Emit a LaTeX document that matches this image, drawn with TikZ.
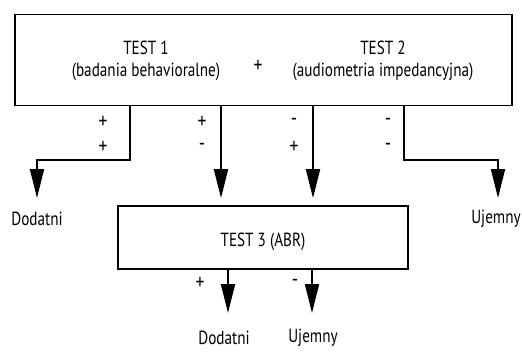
\documentclass[tikz,border=0pt]{standalone}
\usepackage{fontspec}
\setmainfont[FakeStretch=0.8]{PT Sans}
\usetikzlibrary{arrows.meta}
\begin{document}
\begin{tikzpicture}[x=1pt,y=-1pt,line width=1.8pt,
  arr/.style={-{Triangle[width=14pt,length=29pt]}},
  txt/.style={font=\fontsize{19}{22}\selectfont,inner sep=0pt},
  sgn/.style={font=\fontsize{22}{24}\selectfont,inner sep=0pt},
  boxx/.style={draw,inner sep=0pt}]
\useasboundingbox (0,0) rectangle (522,357);
% boxes
\node[boxx,minimum width=497pt,minimum height=91pt] (top) at (263.5,60) {};
\node[boxx,minimum width=290pt,minimum height=63pt] (bot) at (263,237.5) {};
% texts in top box
\node[txt] (t1) at (146,48) {TEST 1};
\node[txt] (t1b) at (146,72) {(badania behavioralne)};
\node[sgn] (pl) at (258,66) {+};
\node[txt] (t2) at (383,48) {TEST 2};
\node[txt] (t2b) at (383,72) {(audiometria impedancyjna)};
\node[txt] (t3) at (263,242) {TEST 3 (ABR)};
% outcome labels
\node[txt] (d1) at (37,219) {Dodatni};
\node[txt] (u1) at (496,219) {Ujemny};
\node[txt] (d2) at (224,338) {Dodatni};
\node[txt] (u2) at (313,338) {Ujemny};
% sign labels
\node[sgn] (s1a) at (103,122) {+};
\node[sgn] (s1b) at (103,147) {+};
\node[sgn] (s2a) at (202,122) {+};
\node[sgn] (s2b) at (202,147) {-};
\node[sgn] (s3a) at (294,122) {-};
\node[sgn] (s3b) at (294,147) {+};
\node[sgn] (s4a) at (388,122) {-};
\node[sgn] (s4b) at (388,147) {-};
\node[sgn] (s5) at (200,283) {+};
\node[sgn] (s6) at (295,283) {-};
% helper coordinates
\coordinate (c1) at (130,160);
\coordinate (e1) at (37,198);
\coordinate (c4) at (404,160);
\coordinate (e4) at (498,198);
\coordinate (e5) at (228,313);
\coordinate (e6) at (312,313);
% connectors
\draw[arr] (top.south -| c1) -- (c1) -| (e1);
\draw[arr] (top.south -| c4) -- (c4) -| (e4);
\draw[arr,shorten >=7pt] (top.south -| 221,0) -- (bot.north -| 221,0);
\draw[arr,shorten >=7pt] (top.south -| 313,0) -- (bot.north -| 313,0);
\draw[arr] (bot.south -| e5) -- (e5);
\draw[arr] (bot.south -| e6) -- (e6);
\end{tikzpicture}
\end{document}
